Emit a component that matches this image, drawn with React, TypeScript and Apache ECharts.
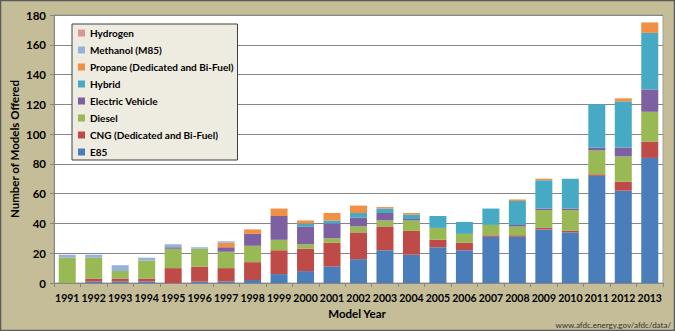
import React, { useEffect, useRef } from "react";
import * as echarts from "echarts";

const years = ["1991","1992","1993","1994","1995","1996","1997","1998","1999","2000","2001","2002","2003","2004","2005","2006","2007","2008","2009","2010","2011","2012","2013"];
const e85 =      [0, 1, 1, 1, 0, 1, 1, 2, 6, 8, 11, 16, 22, 19, 24, 22, 31, 31, 36, 34, 72, 62, 84];
const cng =      [0, 2, 2, 2, 10, 10, 9, 12, 16, 15, 16, 18, 16, 16, 5, 5, 1, 1, 1, 1, 1, 6, 11];
const diesel =   [17, 14, 5, 12, 13, 12, 11, 11, 7, 3, 3, 4, 4, 7, 8, 6, 7, 6, 12, 14, 16, 17, 20];
const electric = [0, 0, 0, 0, 1, 0, 3, 8, 16, 12, 10, 6, 5, 1, 0, 0, 0, 1, 1, 1, 2, 6, 15];
const hybrid =   [0, 0, 0, 0, 0, 0, 0, 0, 0, 2, 2, 3, 3, 3, 8, 8, 11, 16, 19, 20, 29, 31, 38];
const propane =  [0, 0, 0, 0, 0, 0, 3, 3, 5, 2, 5, 5, 1, 1, 0, 0, 0, 1, 1, 0, 0, 2, 7];
const methanol = [2, 2, 4, 2, 2, 1, 1, 0, 0, 0, 0, 0, 0, 0, 0, 0, 0, 0, 0, 0, 0, 0, 0];
const hydrogen = [0, 0, 0, 0, 0, 0, 0, 0, 0, 0, 0, 0, 0, 0, 0, 0, 0, 0, 0, 0, 0, 0, 0];

const seriesNames = ["E85", "CNG (Dedicated and Bi-Fuel)", "Diesel", "Electric Vehicle", "Hybrid", "Propane (Dedicated and Bi-Fuel)", "Methanol (M85)", "Hydrogen"];
const seriesData = [e85, cng, diesel, electric, hybrid, propane, methanol, hydrogen];
const seriesColors = ["#4A7EBB", "#BE4B48", "#98B954", "#7D60A0", "#46AAC5", "#F28F43", "#95B3D7", "#D99694"];
const yTicks = { min: 0, max: 180, interval: 20 };

const FONT = "Lato, 'Liberation Sans', Arial, sans-serif";

export default function App() {
  const ref = useRef<HTMLDivElement>(null);
  useEffect(() => {
    if (!ref.current) return;
    const chart = echarts.init(ref.current, undefined, { renderer: "svg" });
    chart.setOption({
      animation: false,
      backgroundColor: "#C4BD97",
      textStyle: { fontFamily: FONT },
      grid: {
        left: 54, right: 12, top: 15, bottom: 48,
        show: true, backgroundColor: "#FFFFFF", borderColor: "#A0A0A0", borderWidth: 1,
      },
      legend: {
        orient: "vertical",
        left: 72, top: 24,
        data: [...seriesNames].reverse(),
        selectedMode: false,
        icon: "rect",
        itemWidth: 7, itemHeight: 7,
        itemGap: 5,
        padding: [3, 4, 2, 6],
        backgroundColor: "#EEECE1",
        borderColor: "#404040",
        borderWidth: 1,
        textStyle: { fontFamily: FONT, fontSize: 10, fontWeight: "bold", color: "#000", lineHeight: 12 },
      },
      xAxis: {
        type: "category",
        data: years,
        axisLine: { lineStyle: { color: "#868686" } },
        axisTick: { show: true, length: 4, lineStyle: { color: "#868686" } },
        axisLabel: { interval: 0, fontFamily: FONT, fontSize: 10.5, fontWeight: "bold", color: "#000", margin: 9 },
      },
      yAxis: {
        type: "value",
        min: yTicks.min, max: yTicks.max, interval: yTicks.interval,
        axisLine: { show: true, lineStyle: { color: "#868686" } },
        axisTick: { show: true, length: 4, lineStyle: { color: "#868686" } },
        splitLine: { lineStyle: { color: "#868686" } },
        axisLabel: { fontFamily: FONT, fontSize: 11.5, fontWeight: "bold", color: "#000", margin: 8 },
      },
      series: seriesNames.map((name, i) => ({
        name,
        type: "bar",
        stack: "total",
        barWidth: 17,
        data: seriesData[i],
        itemStyle: { color: seriesColors[i] },
      })),
      graphic: [
        {
          type: "rect",
          shape: { x: 0.5, y: 0.5, width: 674, height: 330 },
          style: { fill: "none", stroke: "#5A5A5A", lineWidth: 1.5 },
          silent: true,
        },
        {
          type: "text",
          x: 14, y: 149, rotation: Math.PI / 2,
          style: { text: "Number of Models Offered", fontFamily: FONT, fontSize: 11.5, fontWeight: "bold", fill: "#000", align: "center", verticalAlign: "middle" },
        },
        {
          type: "text",
          x: 357, y: 313,
          style: { text: "Model Year", fontFamily: FONT, fontSize: 11.5, fontWeight: "bold", fill: "#000", align: "center", verticalAlign: "middle" },
        },
        {
          type: "text",
          x: 671, y: 325,
          style: { text: "www.afdc.energy.gov/afdc/data/", fontFamily: FONT, fontSize: 8, fill: "#333", align: "right", verticalAlign: "middle" },
        },
      ],
    });
    return () => chart.dispose();
  }, []);
  return <div ref={ref} style={{ position: "fixed", left: 0, top: 0, width: 675, height: 331 }} />;
}
